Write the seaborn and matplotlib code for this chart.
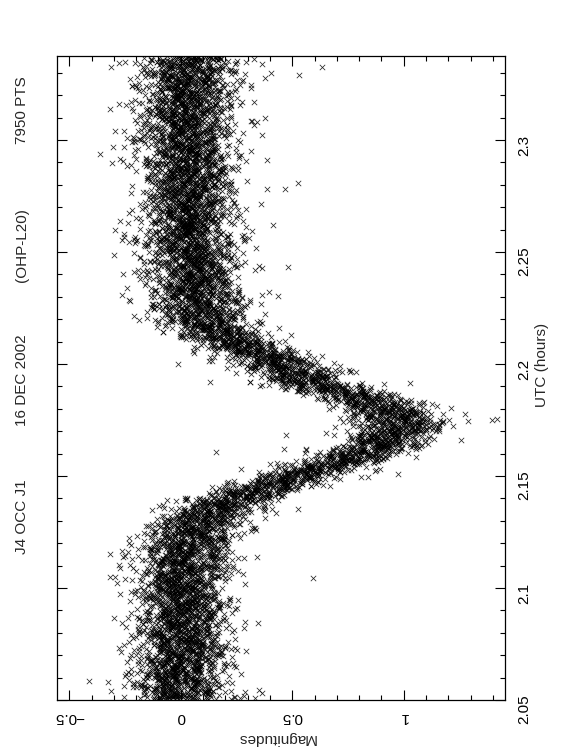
import numpy as np
import pandas as pd
import seaborn as sns
import matplotlib.pyplot as plt
from matplotlib.ticker import MultipleLocator, FuncFormatter

# light curve profile (UTC hours -> mean magnitude)
utc_knots = [2.05, 2.10, 2.12, 2.13, 2.135, 2.14, 2.145, 2.15, 2.155, 2.16, 2.165,
             2.17, 2.175, 2.18, 2.185, 2.19, 2.195, 2.20, 2.205, 2.21, 2.215,
             2.22, 2.23, 2.25, 2.30, 2.3375]
mag_knots = [0.0, 0.0, 0.03, 0.09, 0.15, 0.25, 0.38, 0.52, 0.66, 0.80, 0.92,
             0.98, 0.98, 0.93, 0.80, 0.62, 0.53, 0.45, 0.35, 0.24, 0.15,
             0.10, 0.06, 0.04, 0.03, 0.03]
n_points = 7950
scatter_core = 0.105   # spread of the band, in magnitudes
scatter_wide = 0.2     # spread of the stray points
title_parts = ['J4 OCC J1', '16 DEC 2002', '(OHP-L20)', '7950 PTS']

# single points cannot be read from the picture: the cloud is drawn around the profile
rng = np.random.default_rng(7)
utc = np.linspace(2.05, 2.3375, n_points)
mean = np.interp(utc, utc_knots, mag_knots)
wide = rng.random(n_points) < 0.04
noise = np.where(wide, rng.normal(0, scatter_wide, n_points), rng.normal(0, scatter_core, n_points))
df = pd.DataFrame({'Magnitudes': mean + noise, 'UTC': utc})

sns.set_style('white')
plt.rcParams['font.family'] = ['Liberation Sans', 'DejaVu Sans']

fig = plt.figure(figsize=(5.62, 7.56), dpi=100)
ax = fig.add_axes([57 / 562, 56 / 756, 448 / 562, 644 / 756])

sns.scatterplot(data=df, x='Magnitudes', y='UTC', marker='x', s=15, color='black',
                linewidth=0.55, alpha=0.85, ax=ax, legend=False)

ax.set_xlim(-0.555, 1.454)
ax.set_ylim(2.05, 2.3375)

ax.xaxis.set_major_locator(MultipleLocator(0.5))
ax.xaxis.set_minor_locator(MultipleLocator(0.1))
ax.yaxis.set_major_locator(MultipleLocator(0.05))
ax.yaxis.set_minor_locator(MultipleLocator(0.01))
fmt = FuncFormatter(lambda v, p: ('%g' % round(v, 3)).replace('-', '\u2212'))
ax.xaxis.set_major_formatter(fmt)
ax.yaxis.set_major_formatter(fmt)

ax.tick_params(which='both', direction='in', top=True, bottom=True, left=True, right=True,
               labelleft=False, labelright=True, labelbottom=True, width=0.8, colors='black')
ax.tick_params(which='major', length=7, labelsize=11)
ax.tick_params(which='minor', length=3.5)
ax.tick_params(axis='x', labelrotation=180, pad=7)
ax.tick_params(axis='y', labelrotation=90, pad=9)

for sp in ax.spines.values():
    sp.set_linewidth(0.9)
    sp.set_color('black')

ax.set_xlabel('Magnitudes', rotation=180, fontsize=11, ha='center', va='center')
ax.xaxis.set_label_coords(0.49, -0.059)
ax.yaxis.set_label_position('right')
ax.set_ylabel('UTC (hours)', rotation=90, fontsize=11, ha='center', va='center')
ax.yaxis.set_label_coords(1.083, 0.52)

for txt, ypix in zip(title_parts, [517, 380, 245, 110]):
    fig.text(22 / 562, 1 - ypix / 756, txt, rotation=90, ha='center', va='center', fontsize=11)

fig.savefig('out.png', dpi=100)
